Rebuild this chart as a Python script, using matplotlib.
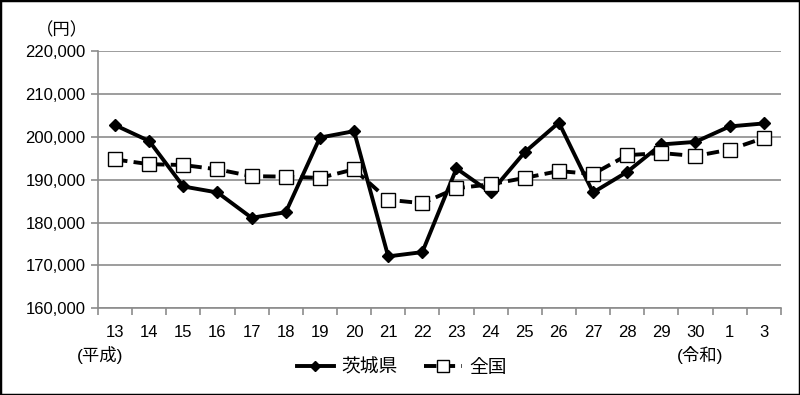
import matplotlib
matplotlib.use("Agg")
import matplotlib.pyplot as plt
from matplotlib.patches import Rectangle

plt.rcParams['font.family'] = ['Liberation Sans', 'Noto Sans CJK JP', 'DejaVu Sans']

years = ["13", "14", "15", "16", "17", "18", "19", "20", "21", "22",
         "23", "24", "25", "26", "27", "28", "29", "30", "1", "3"]
ibaraki = [202700, 199000, 188400, 187000, 181100, 182400, 199800, 201300, 172100, 173100,
           192600, 187000, 196400, 203300, 187000, 191800, 198200, 198800, 202400, 203100]
zenkoku = [194700, 193600, 193400, 192400, 190800, 190700, 190400, 192400, 185300, 184500,
           188000, 188900, 190400, 192000, 191300, 195700, 196200, 195500, 197000, 199700]
yticks = [160000, 170000, 180000, 190000, 200000, 210000, 220000]

fig = plt.figure(figsize=(8, 3.95), dpi=100)
ax = fig.add_axes([0.1225, 0.2195, 0.8535, 0.6515])
x = list(range(len(years)))

ax.plot(x, ibaraki, color="black", lw=2.8, marker="D", ms=6.5,
        mfc="black", mec="black", label="茨城県", zorder=3)
ax.plot(x, zenkoku, color="black", lw=2.8, ls=(0, (3.2, 1.6)), marker="s", ms=10,
        mfc="white", mec="black", mew=1.0, label="全国", zorder=4)

ax.set_xlim(-0.5, len(years) - 0.5)
ax.set_ylim(160000, 220000)
ax.set_yticks(yticks)
ax.set_yticklabels([f"{v:,}" for v in yticks], fontsize=12)
ax.yaxis.grid(True, color="#8c8c8c", lw=1.2)
ax.set_axisbelow(True)

ax.set_xticks(x)
ax.set_xticklabels(years, fontsize=12)
ax.set_xticks([i - 0.5 for i in range(len(years) + 1)], minor=True)
ax.tick_params(axis="x", which="major", length=0, pad=12)
ax.tick_params(axis="x", which="minor", length=5, color="#8c8c8c", width=1.2)
ax.tick_params(axis="y", length=5, color="#8c8c8c", width=1.2, pad=4)

for s in ["top", "right"]:
    ax.spines[s].set_visible(False)
for s in ["left", "bottom"]:
    ax.spines[s].set_color("#8c8c8c")
    ax.spines[s].set_linewidth(1.2)

fig.text(0.078, 0.925, "（円）", fontsize=12.5, ha="center", va="center")
fig.text(0.125, 0.1, "(平成)", fontsize=12.5, ha="center", va="center")
fig.text(0.875, 0.1, "(令和)", fontsize=12.5, ha="center", va="center")

fig.legend(loc="center", bbox_to_anchor=(0.502, 0.068), ncol=2, frameon=False,
           fontsize=13.5, handlelength=2.0, columnspacing=1.4, handletextpad=0.4,
           markerscale=0.8)

fig.patches.append(Rectangle((0, 0), 1, 1, transform=fig.transFigure, fill=False,
                             edgecolor="black", lw=2.5))

fig.savefig("out.png", dpi=100)
